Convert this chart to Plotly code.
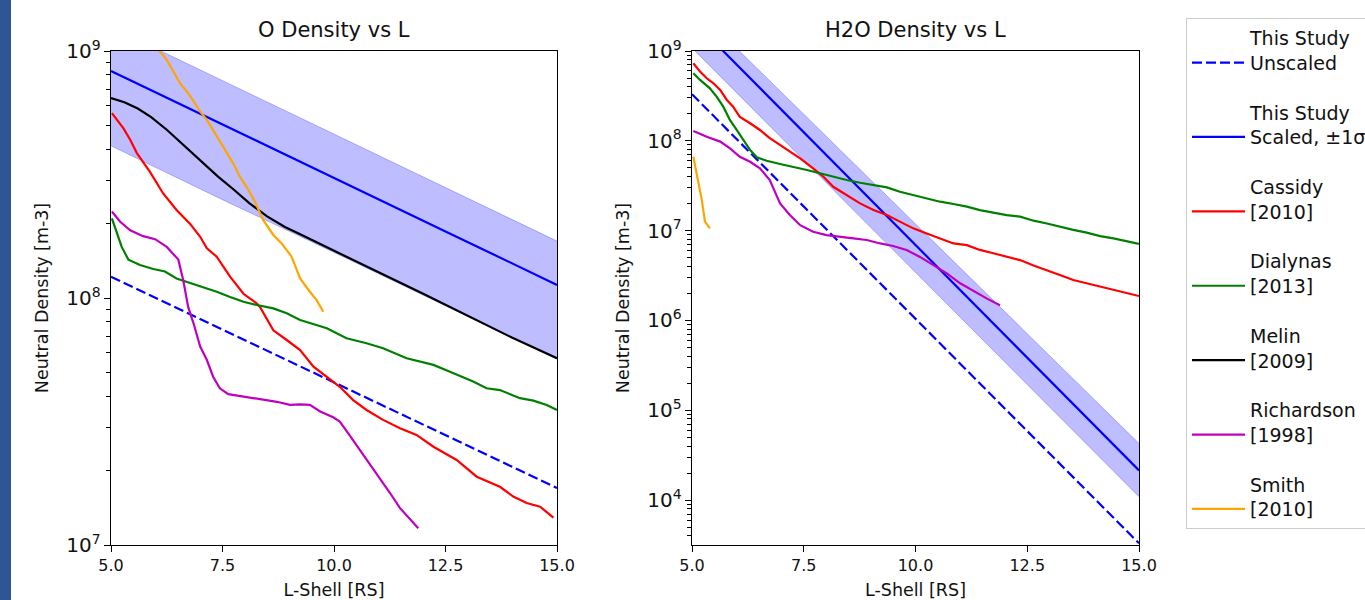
import plotly.graph_objects as go

# ---------------- data ----------------
# Left panel: O density vs L
L_line = [5.0, 7.5, 10.0, 12.5, 15.0]
o_unscaled = [1.22e8, 7.45e7, 4.55e7, 2.78e7, 1.70e7]
o_scaled = [8.3e8, 5.03e8, 3.06e8, 1.86e8, 1.13e8]
o_scaled_hi = [1.25e9, 7.6e8, 4.6e8, 2.8e8, 1.7e8]
o_scaled_lo = [4.13e8, 2.5e8, 1.53e8, 9.3e7, 5.65e7]

o_cassidy_L = [5.02, 5.28, 5.43, 5.58, 5.87, 6.17, 6.47, 6.77, 7.0, 7.15, 7.37, 7.67, 7.97,
               8.27, 8.34, 8.64, 8.94, 9.24, 9.54, 9.84, 10.13, 10.43, 10.73, 11.1, 11.48,
               11.85, 12.23, 12.75, 13.2, 13.72, 14.02, 14.32, 14.62, 14.92]
o_cassidy = [5.6e8, 4.86e8, 4.37e8, 3.86e8, 3.25e8, 2.65e8, 2.27e8, 2.0e8, 1.77e8, 1.59e8,
             1.47e8, 1.22e8, 1.04e8, 9.5e7, 9.2e7, 7.4e7, 6.76e7, 6.15e7, 5.27e7, 4.8e7,
             4.37e7, 3.86e7, 3.52e7, 3.21e7, 2.97e7, 2.79e7, 2.5e7, 2.21e7, 1.89e7, 1.72e7,
             1.57e7, 1.48e7, 1.43e7, 1.29e7]

o_dialynas_L = [5.02, 5.13, 5.24, 5.39, 5.65, 5.95, 6.21, 6.47, 6.77, 7.07, 7.37, 7.67, 7.97,
                8.27, 8.64, 8.94, 9.24, 9.84, 10.28, 10.73, 11.1, 11.63, 12.23, 12.68, 13.12,
                13.42, 13.72, 14.17, 14.47, 14.77, 15.0]
o_dialynas = [2.1e8, 1.83e8, 1.61e8, 1.43e8, 1.36e8, 1.31e8, 1.28e8, 1.2e8, 1.15e8, 1.11e8,
              1.06e8, 1.01e8, 9.66e7, 9.37e7, 9.08e7, 8.67e7, 8.15e7, 7.54e7, 6.87e7, 6.56e7,
              6.26e7, 5.7e7, 5.36e7, 4.96e7, 4.59e7, 4.31e7, 4.24e7, 3.93e7, 3.84e7, 3.69e7,
              3.52e7]

o_melin_L = [5.0, 5.3, 5.6, 5.9, 6.25, 6.6, 7.0, 7.4, 7.75, 8.1, 8.5, 8.9, 9.3, 10.0, 11.0,
             12.0, 13.0, 14.0, 15.0]
o_melin = [6.45e8, 6.2e8, 5.85e8, 5.4e8, 4.8e8, 4.2e8, 3.6e8, 3.1e8, 2.75e8, 2.42e8, 2.14e8,
           1.94e8, 1.79e8, 1.55e8, 1.27e8, 1.04e8, 8.5e7, 6.9e7, 5.7e7]

o_richardson_L = [5.02, 5.2, 5.43, 5.72, 5.99, 6.25, 6.51, 6.62, 6.73, 6.85, 7.0, 7.15, 7.29,
                  7.44, 7.63, 7.89, 8.19, 8.41, 8.72, 9.01, 9.24, 9.46, 9.69, 9.98, 10.13,
                  10.32, 10.58, 10.81, 11.03, 11.26, 11.48, 11.7, 11.89]
o_richardson = [2.24e8, 2.04e8, 1.88e8, 1.78e8, 1.73e8, 1.61e8, 1.43e8, 1.18e8, 9.2e7, 7.9e7,
                6.36e7, 5.61e7, 4.8e7, 4.31e7, 4.08e7, 4.01e7, 3.93e7, 3.9e7, 3.8e7, 3.69e7,
                3.71e7, 3.69e7, 3.47e7, 3.29e7, 3.16e7, 2.83e7, 2.43e7, 2.11e7, 1.85e7, 1.62e7,
                1.41e7, 1.28e7, 1.17e7]

o_smith_L = [6.0, 6.25, 6.36, 6.55, 6.77, 7.0, 7.15, 7.33, 7.52, 7.74, 7.89, 8.04, 8.23, 8.41,
             8.64, 8.83, 9.05, 9.24, 9.46, 9.61, 9.76]
o_smith = [1.05e9, 9.2e8, 8.5e8, 7.4e8, 6.6e8, 5.68e8, 5.26e8, 4.64e8, 4.04e8, 3.51e8, 3.1e8,
           2.82e8, 2.45e8, 2.07e8, 1.8e8, 1.66e8, 1.47e8, 1.2e8, 1.06e8, 9.8e7, 8.8e7]

# Right panel: H2O density vs L
h_unscaled = [3.3e8, 1.86e7, 1.05e6, 5.9e4, 3.3e3]
h_scaled = [2.24e9, 1.24e8, 6.92e6, 3.85e5, 2.14e4]
h_scaled_hi = [3.3e9, 1.99e8, 1.19e7, 7.1e5, 4.27e4]
h_scaled_lo = [1.08e9, 6.1e7, 3.44e6, 1.93e5, 1.09e4]

h_cassidy_L = [5.03, 5.18, 5.33, 5.48, 5.63, 5.78, 5.92, 6.07, 6.30, 6.52, 6.74, 6.97, 7.19,
               7.42, 7.71, 7.94, 8.16, 8.46, 8.76, 9.06, 9.36, 9.65, 9.95, 10.25, 10.55, 10.85,
               11.15, 11.44, 11.74, 12.04, 12.34, 12.64, 12.94, 13.23, 13.53, 13.83, 14.13,
               14.43, 14.73, 15.0]
h_cassidy = [7.3e8, 5.9e8, 4.97e8, 4.37e8, 3.68e8, 2.85e8, 2.4e8, 1.85e8, 1.57e8, 1.32e8,
             1.07e8, 8.98e7, 7.57e7, 6.38e7, 4.94e7, 3.98e7, 3.08e7, 2.49e7, 2.01e7, 1.7e7,
             1.49e7, 1.26e7, 1.06e7, 9.3e6, 8.2e6, 7.2e6, 6.9e6, 6.1e6, 5.6e6, 5.1e6, 4.7e6,
             4.1e6, 3.64e6, 3.2e6, 2.82e6, 2.59e6, 2.37e6, 2.18e6, 2.0e6, 1.87e6]

h_dialynas_L = [5.03, 5.18, 5.40, 5.55, 5.70, 5.85, 6.0, 6.15, 6.30, 6.45, 6.67, 6.97, 7.27,
                7.57, 7.86, 8.16, 8.46, 8.76, 9.06, 9.36, 9.65, 9.95, 10.25, 10.55, 10.85,
                11.15, 11.44, 11.74, 12.04, 12.34, 12.64, 12.94, 13.23, 13.53, 13.83, 14.13,
                14.43, 14.73, 15.0]
h_dialynas = [5.65e8, 4.76e8, 3.84e8, 3.1e8, 2.4e8, 1.7e8, 1.32e8, 1.02e8, 7.9e7, 6.55e7,
              6.0e7, 5.52e7, 5.15e7, 4.73e7, 4.35e7, 3.98e7, 3.66e7, 3.41e7, 3.22e7, 3.03e7,
              2.71e7, 2.49e7, 2.29e7, 2.1e7, 1.98e7, 1.85e7, 1.69e7, 1.58e7, 1.49e7, 1.43e7,
              1.29e7, 1.2e7, 1.1e7, 1.02e7, 9.5e6, 8.7e6, 8.2e6, 7.66e6, 7.1e6]

h_richardson_L = [5.03, 5.33, 5.63, 5.85, 6.07, 6.30, 6.52, 6.74, 6.97, 7.19, 7.42, 7.71, 8.01,
                  8.31, 8.61, 8.91, 9.21, 9.50, 9.80, 10.10, 10.40, 10.70, 11.0, 11.29, 11.59,
                  11.89]
h_richardson = [1.29e8, 1.11e8, 9.8e7, 8.25e7, 6.65e7, 5.85e7, 4.94e7, 3.66e7, 2.01e7, 1.49e7,
                1.15e7, 9.7e6, 8.9e6, 8.6e6, 8.2e6, 7.86e6, 7.2e6, 6.75e6, 6.1e6, 5.1e6,
                4.14e6, 3.34e6, 2.59e6, 2.14e6, 1.76e6, 1.48e6]

h_smith_L = [5.03, 5.14, 5.22, 5.29, 5.40]
h_smith = [6.65e7, 3.66e7, 2.19e7, 1.26e7, 1.06e7]

x_ticks = [5.0, 7.5, 10.0, 12.5, 15.0]

# ---------------- styling ----------------
FONT = "DejaVu Sans"
W, H = 1365, 600
BLUE, RED, GREEN, BLACK, MAG, ORANGE = "#0000ff", "#ff0000", "#008000", "#000000", "#bf00bf", "#ffa500"
BAND = "rgba(0,0,255,0.26)"
LW = 2.2

fig = go.Figure()


def add_panel(xa, ya, unscaled, scaled, hi, lo, series, show):
    fig.add_trace(go.Scatter(x=L_line, y=lo, mode="lines", line=dict(color=BAND, width=1),
                             xaxis=xa, yaxis=ya, showlegend=False, legendgroup="scaled",
                             hoverinfo="skip"))
    fig.add_trace(go.Scatter(x=L_line, y=hi, mode="lines", line=dict(color=BAND, width=1),
                             fill="tonexty", fillcolor=BAND, xaxis=xa, yaxis=ya,
                             showlegend=False, legendgroup="scaled", hoverinfo="skip"))
    fig.add_trace(go.Scatter(x=L_line, y=unscaled, mode="lines", name="This Study<br>Unscaled",
                             line=dict(color=BLUE, width=LW, dash="10px,4px"),
                             xaxis=xa, yaxis=ya, showlegend=show, legendgroup="unscaled",
                             legendrank=1))
    fig.add_trace(go.Scatter(x=L_line, y=scaled, mode="lines", name="This Study<br>Scaled, \u00b11\u03c3",
                             line=dict(color=BLUE, width=LW), xaxis=xa, yaxis=ya,
                             showlegend=show, legendgroup="scaled", legendrank=2))
    for rank, (name, color, xs, ys) in enumerate(series, start=3):
        if xs is None:
            continue
        fig.add_trace(go.Scatter(x=xs, y=ys, mode="lines", name=name,
                                 line=dict(color=color, width=LW), xaxis=xa, yaxis=ya,
                                 showlegend=show, legendgroup=name, legendrank=rank))


add_panel("x", "y", o_unscaled, o_scaled, o_scaled_hi, o_scaled_lo, [
    ("Cassidy<br>[2010]", RED, o_cassidy_L, o_cassidy),
    ("Dialynas<br>[2013]", GREEN, o_dialynas_L, o_dialynas),
    ("Melin<br>[2009]", BLACK, o_melin_L, o_melin),
    ("Richardson<br>[1998]", MAG, o_richardson_L, o_richardson),
    ("Smith<br>[2010]", ORANGE, o_smith_L, o_smith),
], True)

add_panel("x2", "y2", h_unscaled, h_scaled, h_scaled_hi, h_scaled_lo, [
    ("Cassidy<br>[2010]", RED, h_cassidy_L, h_cassidy),
    ("Dialynas<br>[2013]", GREEN, h_dialynas_L, h_dialynas),
    ("Melin<br>[2009]", BLACK, None, None),
    ("Richardson<br>[1998]", MAG, h_richardson_L, h_richardson),
    ("Smith<br>[2010]", ORANGE, h_smith_L, h_smith),
], False)

TICKFONT = dict(family=FONT, size=16, color="#111")
TITLEFONT = dict(family=FONT, size=17.5, color="#111")

xcommon = dict(range=[5, 15], tickvals=x_ticks, ticktext=[f"{v:.1f}" for v in x_ticks],
               ticks="outside", ticklen=6, tickwidth=1.2, tickcolor="black",
               showline=True, linecolor="black", linewidth=1.3, mirror=True,
               showgrid=False, zeroline=False, tickfont=TICKFONT,
               title=dict(text="L-Shell [RS]", font=TITLEFONT, standoff=9))
ycommon = dict(type="log", dtick=1, exponentformat="power", showexponent="all",
               ticks="outside", ticklen=6, tickwidth=1.2, tickcolor="black",
               minor=dict(ticks="outside", ticklen=3.5, tickcolor="black", tickwidth=1, dtick="D1",
                          showgrid=False),
               showline=True, linecolor="black", linewidth=1.3, mirror=True,
               showgrid=False, zeroline=False, tickfont=TICKFONT,
               title=dict(text="Neutral Density [m-3]", font=TITLEFONT, standoff=13))

y0, y1 = (H - 545) / H, (H - 51) / H
fig.update_layout(
    width=W, height=H, margin=dict(l=0, r=0, t=0, b=0, autoexpand=False),
    paper_bgcolor="white", plot_bgcolor="white",
    font=dict(family=FONT, color="#111"),
    xaxis=dict(domain=[111 / W, 557 / W], anchor="y", **xcommon),
    yaxis=dict(domain=[y0, y1], anchor="x", range=[7, 9], **ycommon),
    xaxis2=dict(domain=[692 / W, 1139 / W], anchor="y2", **xcommon),
    yaxis2=dict(domain=[y0, y1], anchor="x2", range=[3.5, 9], **ycommon),
    legend=dict(x=1186 / W, y=1 - 18 / H, xanchor="left", yanchor="top",
                font=dict(family=FONT, size=19, color="#111"),
                bordercolor="#cccccc", borderwidth=1, bgcolor="white",
                traceorder="grouped", tracegroupgap=22, valign="bottom", itemwidth=53),
    showlegend=True,
    shapes=[dict(type="rect", xref="paper", yref="paper", x0=0, x1=11 / W, y0=0, y1=1,
                 fillcolor="#2f5597", line=dict(width=0), layer="above")],
    annotations=[
        dict(text="O Density vs L", x=(111 + 557) / 2 / W, y=1 - 30 / H, xref="paper",
             yref="paper", showarrow=False, font=dict(family=FONT, size=21, color="#111"),
             xanchor="center", yanchor="middle"),
        dict(text="H2O Density vs L", x=(692 + 1139) / 2 / W, y=1 - 30 / H, xref="paper",
             yref="paper", showarrow=False, font=dict(family=FONT, size=21, color="#111"),
             xanchor="center", yanchor="middle"),
    ],
)

fig.write_html("out.html", config={"displayModeBar": False},
               post_script="document.body.style.margin='0';")
